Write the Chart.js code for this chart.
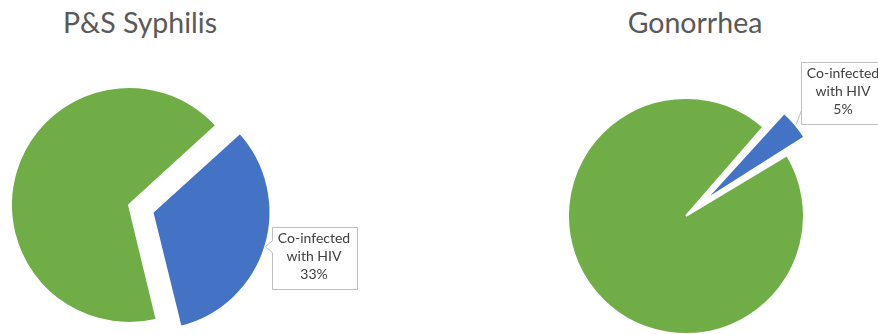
<!DOCTYPE html>
<html lang="en">
<head>
<meta charset="UTF-8">
<title>HIV co-infection</title>
<script src="https://cdn.jsdelivr.net/npm/chart.js@4"></script>
<style>
  body { margin: 0; width: 878px; height: 334px; overflow: hidden; background: #fff; position: relative; font-family: Lato, sans-serif; }
  .title { position: absolute; top: 0; font-size: 28.5px; color: #595959; text-align: center; line-height: 44px; white-space: nowrap; }
  .pie { position: absolute; top: 0; height: 334px; }
</style>
</head>
<body>
<div class="title" style="left:40px;width:200px">P&amp;S Syphilis</div>
<div class="title" style="left:595px;width:200px">Gonorrhea</div>
<div class="pie" style="left:0;width:440px"><canvas id="syphilis"></canvas></div>
<div class="pie" style="left:440px;width:438px"><canvas id="gonorrhea"></canvas></div>

<script>
// data
const categories = ['Co-infected with HIV', 'Not co-infected'];
const calloutLines = ['Co-infected', 'with HIV'];
const syphilisValues = [33, 67];
const gonorrheaValues = [5, 95];
const sliceColors = ['#4472C4', '#70AD47'];

const PIE_RADIUS = 118;
const EXPLODE = 98; // chart.js moves an arc by offset / 4

// callout box next to the exploded slice
const calloutPlugin = {
  id: 'callout',
  afterDatasetsUpdate(chart) {
    // chart.js also grows a narrow exploded arc, shrink it back so every slice keeps one radius
    chart.getDatasetMeta(0).data.forEach(arc => {
      const shift = (arc.options.offset || 0) / 4;
      arc.outerRadius -= shift * (1 - Math.sin(Math.min(Math.PI, arc.circumference)));
    });
  },
  afterDatasetsDraw(chart, args, opts) {
    const arc = chart.getDatasetMeta(0).data[0];
    const value = chart.data.datasets[0].data[0];
    const mid = (arc.startAngle + arc.endAngle) / 2;
    const dist = EXPLODE / 4 + PIE_RADIUS;
    const ax = arc.x + Math.cos(mid) * dist;
    const ay = arc.y + Math.sin(mid) * dist;
    const w = 85, h = 62;
    const bx = Math.round(ax + opts.dx) + 0.5;
    const by = Math.round(ay + opts.dy) + 0.5;
    const ctx = chart.ctx;

    ctx.save();
    ctx.strokeStyle = '#bfbfbf';
    ctx.fillStyle = '#fff';
    ctx.lineWidth = 1;
    ctx.beginPath();
    if (opts.pointer === 'left') {
      ctx.moveTo(bx, by);
      ctx.lineTo(bx + w, by);
      ctx.lineTo(bx + w, by + h);
      ctx.lineTo(bx, by + h);
      ctx.lineTo(bx, ay + 6);
      ctx.lineTo(ax, ay);
      ctx.lineTo(bx, ay - 6);
      ctx.closePath();
      ctx.fill();
      ctx.stroke();
    } else {
      ctx.rect(bx, by, w, h);
      ctx.fill();
      ctx.stroke();
      ctx.beginPath();
      ctx.moveTo(bx, by + h - 14);
      ctx.lineTo(ax + 1, ay);
      ctx.stroke();
    }

    ctx.fillStyle = '#404040';
    ctx.font = '14px Lato';
    ctx.textAlign = 'center';
    ctx.textBaseline = 'middle';
    const lines = calloutLines.concat([value + '%']);
    lines.forEach((t, i) => ctx.fillText(t, bx + w / 2 - 1, by + 10.5 + i * 18));
    ctx.restore();
  }
};

function makePie(id, values, rotation, padding, callout) {
  return new Chart(document.getElementById(id), {
    type: 'pie',
    data: {
      labels: categories,
      datasets: [{
        data: values,
        backgroundColor: sliceColors,
        borderColor: '#fff',
        borderWidth: 2,
        offset: [EXPLODE, 0],
        radius: PIE_RADIUS,
        clip: false
      }]
    },
    options: {
      responsive: true,
      maintainAspectRatio: false,
      animation: false,
      events: [],
      rotation: rotation,
      layout: { padding: padding },
      plugins: {
        legend: { display: false },
        tooltip: { enabled: false },
        callout: callout
      }
    },
    plugins: [calloutPlugin]
  });
}

makePie('syphilis', syphilisValues, 47.6, { top: 76, right: 182 }, { dx: 6.5, dy: -20, pointer: 'left' });
makePie('gonorrhea', gonorrheaValues, 41, { top: 98, left: 54 }, { dx: 6, dy: -62, pointer: 'line' });
</script>
</body>
</html>
